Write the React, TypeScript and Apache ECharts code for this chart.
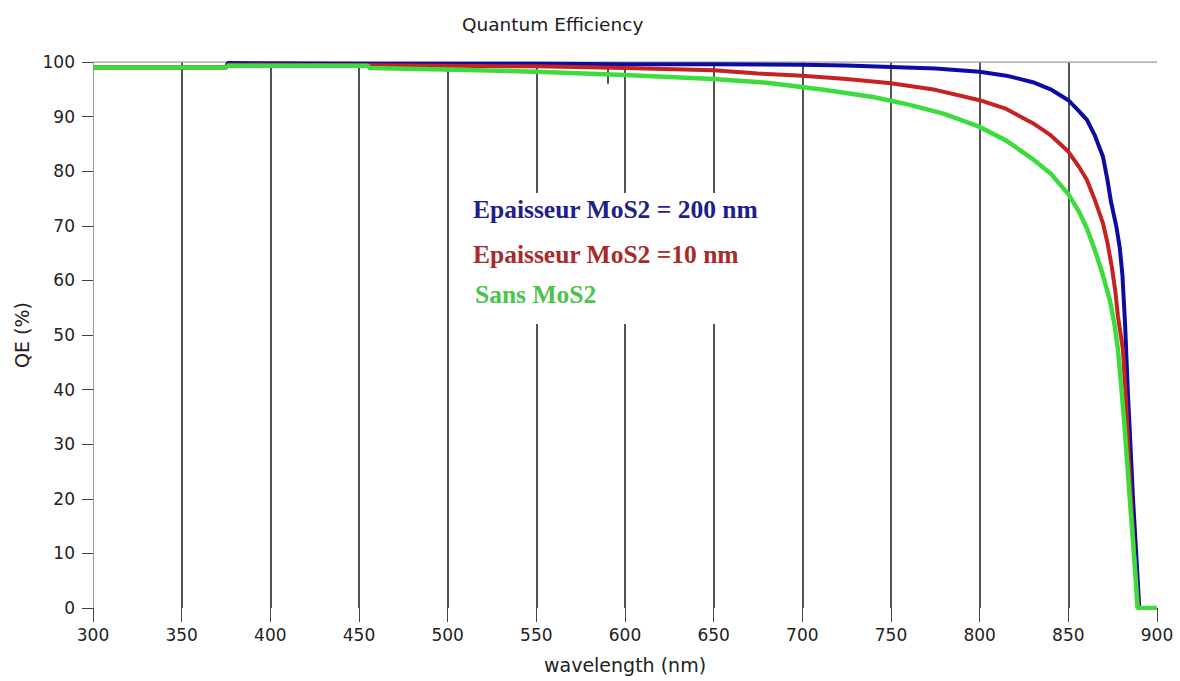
import React, { useEffect, useRef } from "react";
import * as echarts from "echarts";

// Wavelength (nm) / QE (%)
const blueWl = [300, 375, 376, 460, 550, 600, 650, 700, 725, 750, 775, 800, 815, 830, 840, 850, 856, 860.5, 865, 869.5, 872, 874, 877, 879, 880.5, 882, 883.5, 884.7, 886.5, 888.7, 890, 900];
const blueQe = [99.0, 99.0, 99.8, 99.7, 99.7, 99.6, 99.6, 99.5, 99.35, 99.1, 98.8, 98.2, 97.5, 96.3, 95.0, 93.0, 91.0, 89.4, 86.5, 82.7, 78.5, 74.5, 70.0, 66.0, 61.0, 52.0, 40.0, 32.0, 19.8, 7.6, 0, 0];

const redWl = [300, 375, 376, 460, 550, 600, 650, 675, 700, 725, 750, 775, 800, 815, 830, 840, 850, 856, 860.5, 865, 869.5, 872, 874.5, 876.5, 878, 880.8, 882.5, 884, 885.5, 887.5, 889.5, 900];
const redQe = [99.0, 99.0, 99.5, 99.4, 99.2, 98.9, 98.5, 97.9, 97.5, 96.9, 96.1, 94.9, 93.0, 91.4, 88.8, 86.6, 83.6, 80.8, 78.4, 74.7, 70.5, 67.0, 62.5, 58.0, 53.4, 47.3, 38.0, 28.0, 19.0, 8.0, 0, 0];

const greenWl = [300, 375, 376, 455, 456, 505, 550, 600, 650, 680, 710, 740, 760, 780, 800, 815, 830, 840, 850, 856, 860.5, 865, 869, 873.4, 876, 878, 880, 882, 884.7, 887.5, 889, 900];
const greenQe = [99.0, 99.0, 99.3, 99.3, 98.9, 98.6, 98.2, 97.6, 96.9, 96.2, 95.0, 93.6, 92.2, 90.5, 88.1, 85.6, 82.2, 79.6, 75.8, 72.6, 69.5, 65.5, 61.5, 56.4, 52.0, 47.3, 40.0, 32.0, 19.8, 7.6, 0, 0];

const gridWl = [350, 400, 450, 500, 550, 600, 650, 700, 750, 800, 850];
const brokenWl = [550, 600, 650];
const breakRange = [52, 76];

const legendLabels = ["Epaisseur MoS2 = 200 nm", "Epaisseur MoS2 =10 nm", "Sans MoS2"];

const zip = (xs: number[], ys: number[]) => xs.map((x, i) => [x, ys[i]]);

export default function App() {
  const ref = useRef<HTMLDivElement>(null);
  useEffect(() => {
    document.body.style.margin = "0";
    const chart = echarts.init(ref.current!, null, { renderer: "svg" });
    const gridLines: any[] = [];
    gridWl.forEach((w) => {
      if (brokenWl.includes(w)) {
        gridLines.push({ coords: [[w, 100], [w, breakRange[1]]] });
        gridLines.push({ coords: [[w, breakRange[0]], [w, 0]] });
      } else {
        gridLines.push({ coords: [[w, 100], [w, 0]] });
      }
    });
    gridLines.push({ coords: [[590, 100], [590, 96]] });
    const font = "DejaVu Sans, Verdana, sans-serif";
    const legendFont = "bold 25.5px 'Liberation Serif', 'Times New Roman', serif";
    chart.setOption({
      animation: false,
      backgroundColor: "#ffffff",
      title: {
        text: "Quantum Efficiency",
        left: 457,
        top: 10,
        textStyle: { fontFamily: font, fontSize: 18.5, fontWeight: "normal", color: "#222" },
      },
      grid: { left: 93, right: 23, top: 62, bottom: 73 },
      xAxis: {
        type: "value",
        min: 300,
        max: 900,
        interval: 50,
        name: "wavelength (nm)",
        nameLocation: "middle",
        nameGap: 47,
        nameTextStyle: { fontFamily: font, fontSize: 19, color: "#222" },
        axisLine: { show: false },
        axisTick: { show: true, length: 14, lineStyle: { color: "#444", width: 1 } },
        splitLine: { show: false },
        axisLabel: { margin: 18, fontFamily: font, fontSize: 17, color: "#222" },
      },
      yAxis: {
        type: "value",
        min: 0,
        max: 100,
        interval: 10,
        name: "QE (%)",
        nameLocation: "middle",
        nameGap: 60,
        nameRotate: 90,
        nameTextStyle: { fontFamily: font, fontSize: 19, color: "#222" },
        axisLine: { show: true, lineStyle: { color: "#9a9a9a", width: 1 } },
        axisTick: { show: true, length: 11, lineStyle: { color: "#444", width: 1 } },
        splitLine: { show: false },
        axisLabel: { margin: 18, fontFamily: font, fontSize: 17, color: "#222" },
      },
      series: [
        {
          type: "lines",
          coordinateSystem: "cartesian2d",
          z: 1,
          silent: true,
          lineStyle: { color: "#1a1a1a", width: 1.5, opacity: 1 },
          data: gridLines,
        },
        {
          type: "lines",
          coordinateSystem: "cartesian2d",
          z: 1,
          silent: true,
          lineStyle: { color: "#a0a0a0", width: 1.5, opacity: 1 },
          data: [{ coords: [[300, 100], [900, 100]] }],
        },
        {
          type: "line",
          name: legendLabels[0],
          data: zip(blueWl, blueQe),
          showSymbol: false,
          z: 2,
          lineStyle: { color: "#0c0ca2", width: 4 },
          itemStyle: { color: "#0c0ca2" },
        },
        {
          type: "line",
          name: legendLabels[1],
          data: zip(redWl, redQe),
          showSymbol: false,
          z: 3,
          lineStyle: { color: "#c62222", width: 4 },
          itemStyle: { color: "#c62222" },
        },
        {
          type: "line",
          name: legendLabels[2],
          data: zip(greenWl, greenQe),
          showSymbol: false,
          z: 4,
          lineStyle: { color: "#3ddc3d", width: 4.5 },
          itemStyle: { color: "#3ddc3d" },
        },
      ],
      graphic: [
        { type: "text", left: 473, top: 196, style: { text: legendLabels[0], fill: "#1e1e8c", font: legendFont } },
        { type: "text", left: 473, top: 241, style: { text: legendLabels[1], fill: "#a82a2a", font: legendFont } },
        { type: "text", left: 475, top: 281, style: { text: legendLabels[2], fill: "#4cc44c", font: legendFont } },
      ],
    });
    return () => chart.dispose();
  }, []);
  return <div ref={ref} style={{ width: 1180, height: 681 }} />;
}
